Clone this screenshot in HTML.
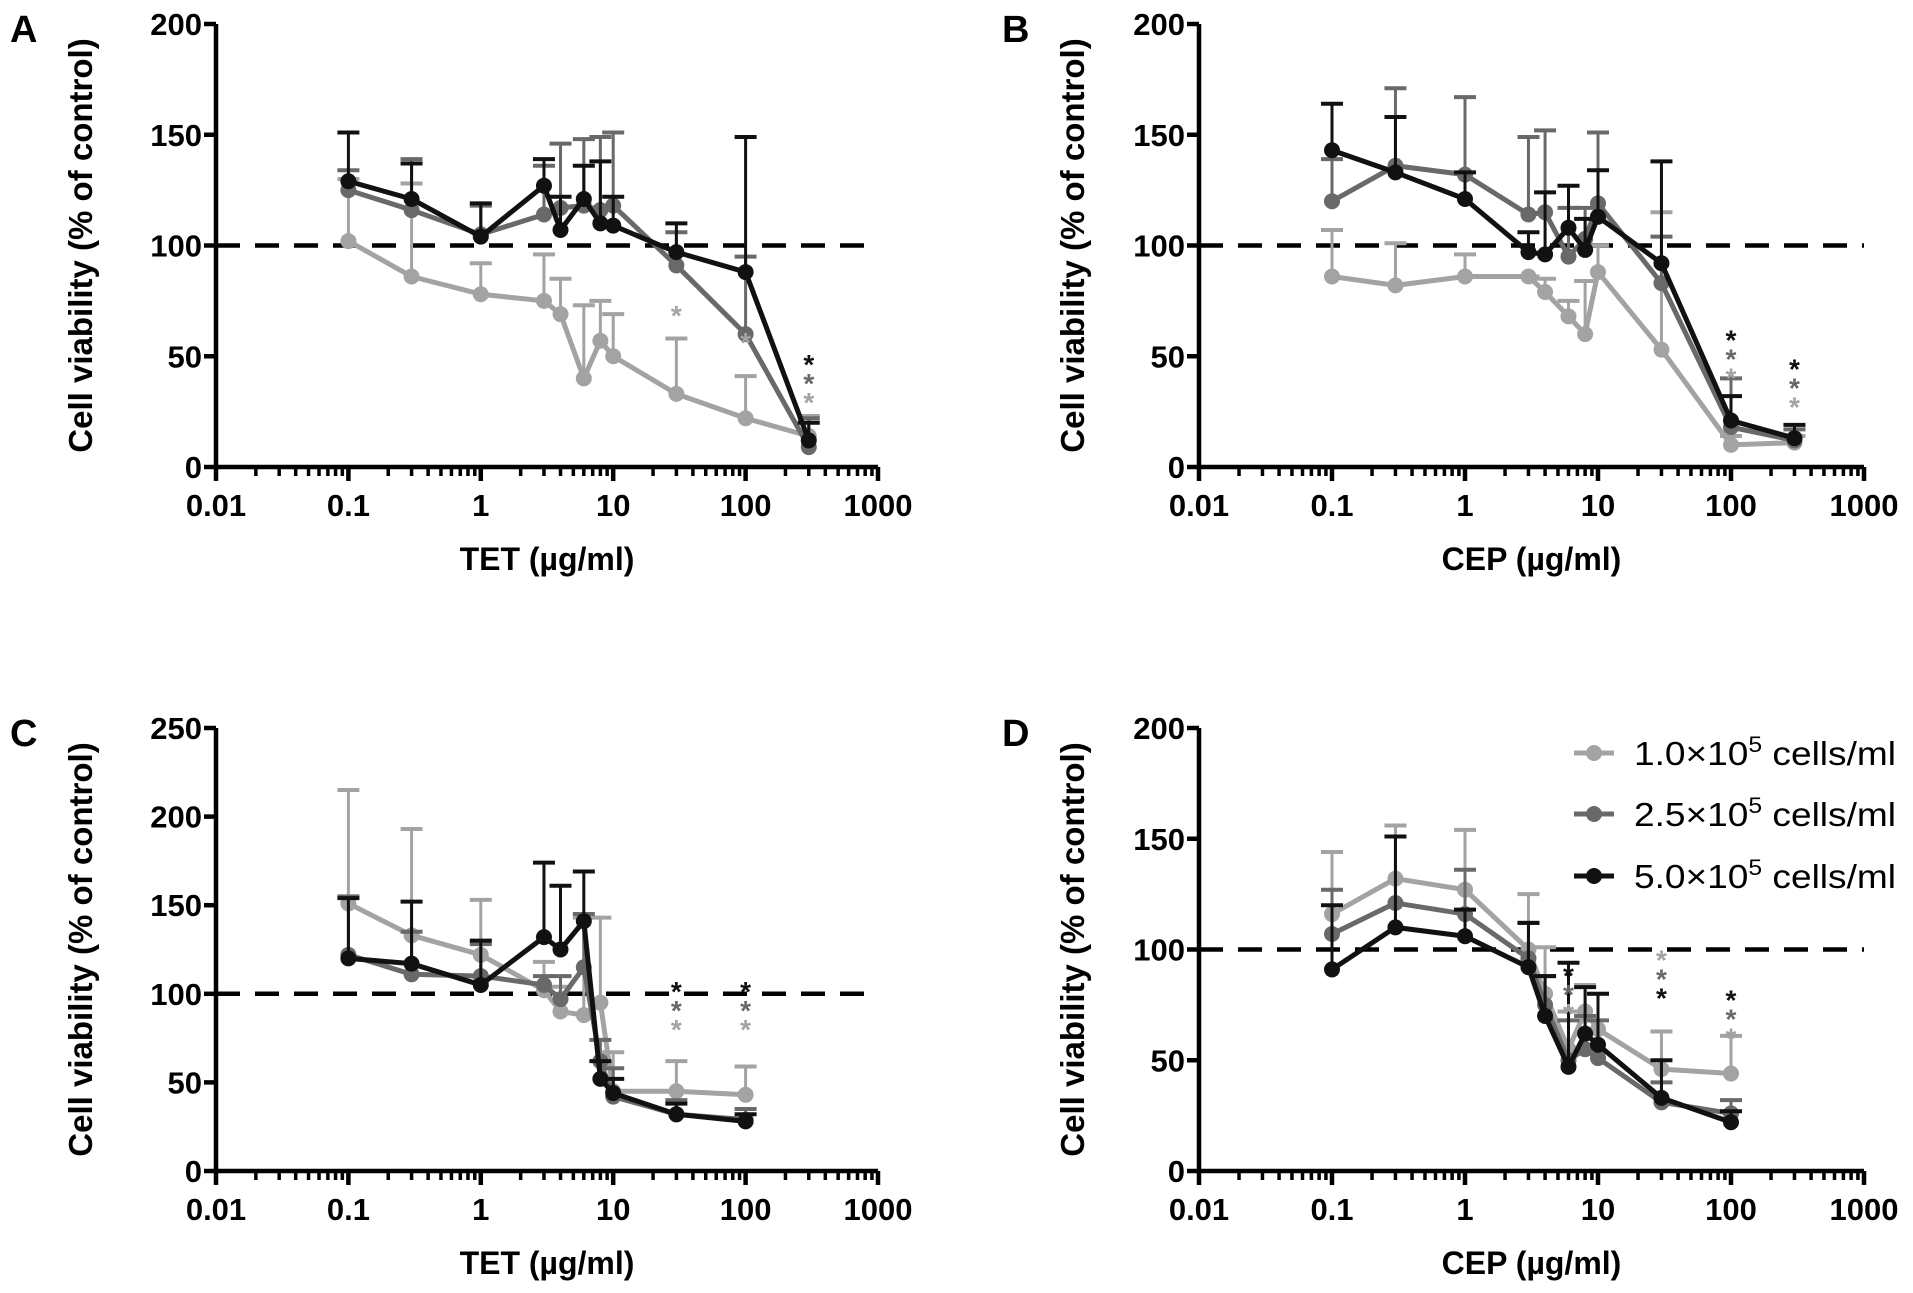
<!DOCTYPE html>
<html><head><meta charset="utf-8"><style>
html,body{margin:0;padding:0;background:#fff;}
svg{display:block;font-family:"Liberation Sans",Arial,sans-serif;font-weight:bold;}
</style></head><body>
<svg id="fig" width="1913" height="1293" viewBox="0 0 1913 1293"></svg>
<script>
// ---- Panel A (TET) ----
const xA = [0.1,0.3,1,3,4,6,8,10,30,100,300];
const aLight = [102,86,78,75,69,40,57,50,33,22,14];
const aLightErr = [130,128,92,96,85,73,75,69,58,41,23];
const aMid = [125,116,105,114,117,118,116,118,91,60,9];
const aMidErr = [134,139,118,136,146,148,149,151,106,95,22];
const aDark = [129,121,104,127,107,121,110,109,97,88,12];
const aDarkErr = [151,137,119,139,122,136,138,122,110,149,20];
// ---- Panel B (CEP) ----
const xB = [0.1,0.3,1,3,4,6,8,10,30,100,300];
const bLight = [86,82,86,86,79,68,60,88,53,10,11];
const bLightErr = [107,101,96,86,85,75,84,100,115,14,14];
const bMid = [120,136,132,114,115,95,103,119,83,18,12];
const bMidErr = [139,171,167,149,152,117,117,151,104,40,17];
const bDark = [143,133,121,97,96,108,98,113,92,21,13];
const bDarkErr = [164,158,133,106,124,127,112,134,138,32,19];
// ---- Panel C (TET) ----
const xC = [0.1,0.3,1,3,4,6,8,10,30,100];
const cLight = [151,133,122,102,90,88,95,45,45,43];
const cLightErr = [215,193,153,118,104,143,143,67,62,59];
const cMid = [122,111,110,105,97,115,62,42,32,29];
const cMidErr = [155,135,128,110,110,145,74,58,40,35];
const cDark = [120,117,105,132,125,141,52,44,32,28];
const cDarkErr = [154,152,130,174,161,169,62,52,38,32];
// ---- Panel D (CEP) ----
const xD = [0.1,0.3,1,3,4,6,8,10,30,100];
const dLight = [116,132,127,100,80,55,72,64,46,44];
const dLightErr = [144,156,154,125,101,72,84,80,63,61];
const dMid = [107,121,116,96,75,50,55,51,31,26];
const dMidErr = [127,151,136,112,88,68,70,68,40,32];
const dDark = [91,110,106,92,70,47,62,57,33,22];
const dDarkErr = [120,151,118,112,88,94,83,80,50,27];
const xTicks = [0.01,0.1,1,10,100,1000];
const xTickLabels = ["0.01","0.1","1","10","100","1000"];
const yTicks200 = [0,50,100,150,200];
const yTicks250 = [0,50,100,150,200,250];

const NS="http://www.w3.org/2000/svg";
const svg=document.getElementById('fig');
const COL={light:'#a3a3a3',mid:'#696969',dark:'#111111'};
function el(tag,attrs,parent){const e=document.createElementNS(NS,tag);for(const k in attrs)e.setAttribute(k,attrs[k]);(parent||svg).appendChild(e);return e;}

function panel(cfg){
  const g=el('g',{});
  
  
  const L=cfg.x0,R=cfg.x1,T=cfg.yTop,B=cfg.yBot;
  const sx=v=>L+(Math.log10(v)+2)/5*(R-L);
  const sy=v=>B-v/cfg.yMax*(B-T);
  const lt=el('text',{x:cfg.letterX,y:T+18,'font-size':38,fill:'#000'},g);lt.textContent=cfg.letter;
  
  
  const dl=el('line',{x1:L,x2:R,y1:sy(100),y2:sy(100),stroke:'#000','stroke-width':4.5,'stroke-dasharray':'24,15'},g);
  
  
  const ax=el('path',{d:`M${L},${T} L${L},${B} L${R},${B}`,fill:'none',stroke:'#000','stroke-width':4.5},g);
  
  
  cfg.yTicks.forEach(v=>{
    el('line',{x1:L-12,x2:L,y1:sy(v),y2:sy(v),stroke:'#000','stroke-width':4.5},g);
    const t=el('text',{x:L-14,y:sy(v)+11,'font-size':31,'text-anchor':'end'},g);t.textContent=v;
    
    
  });
  xTicks.forEach((v,i)=>{
    el('line',{x1:sx(v),x2:sx(v),y1:B,y2:B+14,stroke:'#000','stroke-width':4.5},g);
    const t=el('text',{x:sx(v),y:B+49,'font-size':31,'text-anchor':'middle'},g);t.textContent=xTickLabels[i];
    
    
    if(i<xTicks.length-1){for(let m=2;m<=9;m++){const xx=sx(v*m);el('line',{x1:xx,x2:xx,y1:B,y2:B+9,stroke:'#000','stroke-width':3.5},g);}}
  });
  const xt=el('text',{x:(L+R)/2,y:B+103,'font-size':32,'text-anchor':'middle'},g);xt.textContent=cfg.xTitle;
  
  
  const yc=(T+B)/2, yx=cfg.letterX+82;
  const yt=el('text',{x:yx,y:yc,'font-size':33,'text-anchor':'middle',transform:`rotate(-90 ${yx} ${yc})`},g);yt.textContent='Cell viability (% of control)';
  
  
  cfg.series.forEach(s=>{
    const sg=el('g',{},g);
    
    
    s.y.forEach((v,i)=>{
      const x=sx(cfg.xs[i]);
      el('line',{x1:x,x2:x,y1:sy(v),y2:sy(s.err[i]),stroke:s.c,'stroke-width':3},sg);
      el('line',{x1:x-11,x2:x+11,y1:sy(s.err[i]),y2:sy(s.err[i]),stroke:s.c,'stroke-width':4},sg);
    });
    el('polyline',{points:s.y.map((v,i)=>sx(cfg.xs[i])+','+sy(v)).join(' '),fill:'none',stroke:s.c,'stroke-width':5,'stroke-linejoin':'round'},sg);
    s.y.forEach((v,i)=>{const c=el('circle',{cx:sx(cfg.xs[i]),cy:sy(v),r:8,fill:s.c},sg);
      
      });
  });
  (cfg.stars||[]).forEach(st=>{
    st.cols.forEach((c,k)=>{const t=el('text',{x:sx(st.x),y:sy(st.y)+k*19,'font-size':28,'text-anchor':'middle',fill:COL[c]},g);t.textContent='*';
      
      });
  });
  return g;
}
function ser(l,le,m,me,d,de){return [{name:'1e5',c:COL.light,y:l,err:le},{name:'2.5e5',c:COL.mid,y:m,err:me},{name:'5e5',c:COL.dark,y:d,err:de}];}

panel({letter:'A',letterX:10,x0:216,x1:878,yTop:24,yBot:467,yMax:200,yTicks:yTicks200,xs:xA,xTitle:'TET (µg/ml)',
  series:ser(aLight,aLightErr,aMid,aMidErr,aDark,aDarkErr),
  stars:[{x:30,y:64,cols:['light']},{x:100,y:52,cols:['light']},{x:300,y:42,cols:['dark','mid','light']}]});
panel({letter:'B',letterX:1002,x0:1199,x1:1864,yTop:24,yBot:467,yMax:200,yTicks:yTicks200,xs:xB,xTitle:'CEP (µg/ml)',
  series:ser(bLight,bLightErr,bMid,bMidErr,bDark,bDarkErr),
  stars:[{x:100,y:53,cols:['dark','mid','light']},{x:300,y:40,cols:['dark','mid','light']}]});
panel({letter:'C',letterX:10,x0:216,x1:878,yTop:728,yBot:1171,yMax:250,yTicks:yTicks250,xs:xC,xTitle:'TET (µg/ml)',
  series:ser(cLight,cLightErr,cMid,cMidErr,cDark,cDarkErr),
  stars:[{x:30,y:96,cols:['dark','mid','light']},{x:100,y:96,cols:['dark','mid','light']}]});
panel({letter:'D',letterX:1002,x0:1199,x1:1864,yTop:728,yBot:1171,yMax:200,yTicks:yTicks200,xs:xD,xTitle:'CEP (µg/ml)',
  series:ser(dLight,dLightErr,dMid,dMidErr,dDark,dDarkErr),
  stars:[{x:6,y:84,cols:['dark','mid','light']},{x:30,y:91,cols:['light','mid','dark']},{x:100,y:73,cols:['dark','mid','light']}]});

const lg=el('g',{});


[['light','1.0×10','5',753],['mid','2.5×10','5',814],['dark','5.0×10','5',876]].forEach(r=>{
  const e=el('g',{},lg);
  
  
  el('line',{x1:1574,x2:1614,y1:r[3],y2:r[3],stroke:COL[r[0]],'stroke-width':5},e);
  el('circle',{cx:1594,cy:r[3],r:8,fill:COL[r[0]]},e);
  const t=el('text',{x:1634,y:r[3]+12,'font-size':33,'font-weight':'normal',textLength:262,lengthAdjust:'spacingAndGlyphs'},e);
  t.innerHTML=r[1]+'<tspan dy="-13" font-size="22">'+r[2]+'</tspan><tspan dy="13"> cells/ml</tspan>';
});
</script>
</body></html>
